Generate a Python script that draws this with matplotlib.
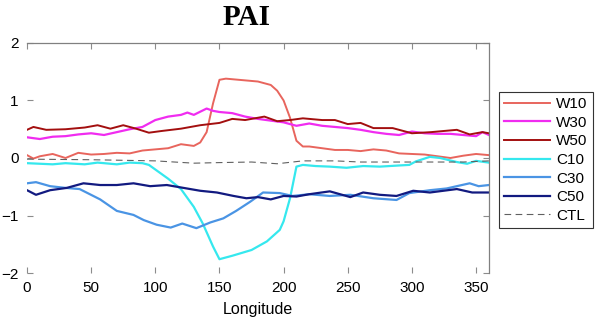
#!/usr/bin/env python3
# PAI vs longitude, warm/cold experiments + control

import matplotlib
matplotlib.use("Agg")
import matplotlib.pyplot as plt

# --- data ---
w10_lon = [0, 5, 10, 20, 30, 40, 50, 60, 70, 80, 90, 100, 110, 120, 130, 135, 140, 145,
           150, 155, 160, 170, 180, 190, 195, 200, 205, 210, 215, 220, 230, 240, 250,
           260, 270, 280, 290, 300, 310, 320, 330, 340, 350, 360]
w10 = [0.05, -0.01, 0.03, 0.07, 0.0, 0.09, 0.06, 0.07, 0.09, 0.08, 0.13, 0.15, 0.17, 0.24,
       0.21, 0.27, 0.45, 0.95, 1.36, 1.38, 1.37, 1.35, 1.33, 1.27, 1.17, 1.0, 0.7, 0.3,
       0.2, 0.2, 0.17, 0.14, 0.14, 0.12, 0.15, 0.13, 0.08, 0.07, 0.06, 0.03, 0.0, 0.04,
       0.07, 0.05]

w30_lon = [0, 10, 20, 30, 40, 50, 60, 70, 80, 90, 100, 110, 120, 125, 130, 140, 145, 150,
           160, 170, 180, 190, 200, 210, 220, 230, 240, 250, 260, 270, 280, 290, 300,
           310, 320, 330, 340, 350, 355, 360]
w30 = [0.36, 0.33, 0.37, 0.38, 0.41, 0.43, 0.40, 0.45, 0.50, 0.54, 0.66, 0.72, 0.75, 0.79,
       0.75, 0.86, 0.82, 0.80, 0.78, 0.72, 0.68, 0.65, 0.62, 0.56, 0.60, 0.56, 0.54, 0.52,
       0.49, 0.45, 0.42, 0.40, 0.46, 0.43, 0.42, 0.42, 0.40, 0.38, 0.45, 0.40]

w50_lon = [0, 5, 15, 30, 45, 55, 65, 75, 85, 95, 105, 120, 135, 150, 160, 170, 185, 195,
           205, 215, 230, 240, 250, 260, 270, 285, 300, 315, 335, 345, 355, 360]
w50 = [0.49, 0.54, 0.49, 0.50, 0.53, 0.57, 0.51, 0.57, 0.51, 0.44, 0.47, 0.51, 0.57, 0.61,
       0.68, 0.66, 0.72, 0.64, 0.66, 0.69, 0.66, 0.66, 0.59, 0.61, 0.52, 0.52, 0.43, 0.45,
       0.49, 0.41, 0.45, 0.43]

c10_lon = [0, 10, 20, 30, 45, 55, 70, 80, 90, 95, 100, 110, 120, 130, 137, 145, 150, 160,
           175, 187, 197, 200, 205, 210, 215, 225, 236, 249, 262, 275, 290, 298, 303,
           314, 322, 335, 343, 350, 360]
c10 = [-0.09, -0.10, -0.11, -0.09, -0.11, -0.08, -0.11, -0.08, -0.09, -0.12, -0.20, -0.36,
       -0.54, -0.85, -1.14, -1.54, -1.76, -1.70, -1.60, -1.45, -1.25, -1.10, -0.70, -0.15,
       -0.12, -0.14, -0.15, -0.17, -0.14, -0.15, -0.13, -0.12, -0.06, 0.02, 0.0, -0.07,
       -0.10, -0.05, -0.08]

c30_lon = [0, 7, 18, 30, 41, 49, 57, 70, 83, 91, 101, 112, 121, 132, 143, 153, 163, 174,
           184, 197, 207, 220, 236, 252, 270, 288, 298, 314, 327, 345, 352, 360]
c30 = [-0.44, -0.42, -0.49, -0.52, -0.54, -0.63, -0.72, -0.92, -0.99, -1.08, -1.16, -1.21,
       -1.14, -1.22, -1.12, -1.05, -0.92, -0.76, -0.60, -0.61, -0.66, -0.63, -0.66, -0.64,
       -0.70, -0.73, -0.61, -0.56, -0.53, -0.44, -0.49, -0.47]

c50_lon = [0, 7, 18, 31, 44, 57, 70, 83, 96, 109, 122, 135, 148, 161, 171, 180, 190, 200,
           210, 220, 236, 252, 262, 275, 288, 301, 314, 335, 347, 360]
c50 = [-0.56, -0.64, -0.56, -0.52, -0.44, -0.47, -0.47, -0.44, -0.49, -0.47, -0.52, -0.57,
       -0.60, -0.66, -0.70, -0.68, -0.72, -0.66, -0.67, -0.63, -0.58, -0.68, -0.60, -0.64,
       -0.66, -0.57, -0.60, -0.54, -0.60, -0.60]

ctl_lon = [0, 50, 100, 130, 150, 175, 195, 215, 240, 260, 300, 340, 360]
ctl = [-0.02, -0.03, -0.05, -0.09, -0.08, -0.07, -0.10, -0.05, -0.05, -0.07, -0.07,
       -0.07, -0.05]

xticks = [0, 50, 100, 150, 200, 250, 300, 350]
yticks = [-2, -1, 0, 1, 2]

plt.rcParams["font.family"] = ["Liberation Sans", "DejaVu Sans"]

fig = plt.figure(figsize=(5.96, 3.18), dpi=100)
ax = fig.add_axes([0.0453, 0.1415, 0.775, 0.7233])

series = [
    (w10_lon, w10, "W10", "#e8655d", "-", 1.4),
    (w30_lon, w30, "W30", "#f02cf0", "-", 1.6),
    (w50_lon, w50, "W50", "#a30f0f", "-", 1.4),
    (c10_lon, c10, "C10", "#35e8ee", "-", 1.6),
    (c30_lon, c30, "C30", "#4a94e4", "-", 1.6),
    (c50_lon, c50, "C50", "#121a80", "-", 1.6),
    (ctl_lon, ctl, "CTL", "#606060", (0, (6, 4)), 0.8),
]
for lon, val, lab, col, ls, lw in series:
    ax.plot(lon, val, color=col, linestyle=ls, linewidth=lw, label=lab)

ax.set_xlim(0, 360)
ax.set_ylim(-2, 2)
ax.set_xticks(xticks)
ax.set_yticks(yticks)
ax.tick_params(direction="in", top=True, right=True, length=4, color="0.55",
               labelsize=11, pad=6)

ax.spines["left"].set_visible(False)
ax.spines["bottom"].set_visible(False)
for s in ("top", "right"):
    ax.spines[s].set_color("0.5")
    ax.spines[s].set_linewidth(0.9)

ax.set_xlabel("Longitude", fontsize=11.5, labelpad=5)

fig.text(0.414, 0.945, "PAI", ha="center", va="center", fontsize=21,
         fontweight="bold", family="Liberation Serif")

leg = ax.legend(loc="upper left", bbox_to_anchor=(0.837, 0.711),
                bbox_transform=fig.transFigure, borderaxespad=0,
                fontsize=11, handlelength=3.0, labelspacing=0.3,
                fancybox=False, framealpha=1, edgecolor="0.2",
                borderpad=0.35, handletextpad=0.4)
leg.get_frame().set_linewidth(0.8)

plt.savefig("out.png", dpi=100)
